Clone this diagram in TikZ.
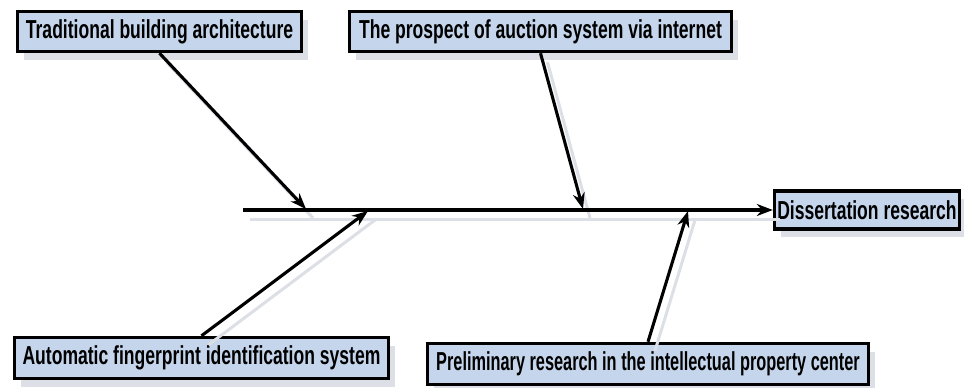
\documentclass[tikz,border=0pt]{standalone}
\usepackage{fontspec}
\newfontfamily\boxfont{Liberation Sans}[FakeStretch=0.675]
\usetikzlibrary{arrows.meta,shadows}
\definecolor{boxfill}{RGB}{197,214,236}
\definecolor{shadowc}{RGB}{220,224,230}
\tikzset{
  box/.style={draw=black, line width=3.4pt, fill=boxfill, inner sep=0pt,
    font=\boxfont\bfseries\fontsize{26}{30}\selectfont,
    drop shadow={shadow xshift=6pt, shadow yshift=-8pt, fill=shadowc, opacity=1}},
  conn/.style={line width=3.1pt, -{Stealth[length=16pt,width=12pt]}},
  shadowline/.style={line width=3pt, draw=shadowc}
}
\begin{document}
\begin{tikzpicture}[x=1pt,y=-1pt]
\useasboundingbox (0,0) rectangle (964,388);
\node[box, minimum width=284pt, minimum height=40pt] (b1) at (159.5,31.5) {Traditional building architecture};
\node[box, minimum width=382pt, minimum height=40pt] (b2) at (540.5,31.5) {The prospect of auction system via internet};
\node[box, minimum width=185pt, minimum height=38pt] (b3) at (867,210) {Dissertation research};
\node[box, minimum width=374pt, minimum height=41pt] (b4) at (201.5,358) {Automatic fingerprint identification system};
\node[box, minimum width=441pt, minimum height=41pt] (b5) at (648,364) {\scalebox{0.93}[1]{Preliminary research in the intellectual property center}};
\coordinate (s0) at (243,210);
\coordinate (t1) at (306,209);
\coordinate (t2) at (583,209);
\coordinate (t4) at (368,211);
\coordinate (t5) at (688,211);
\begin{scope}[transform canvas={shift={(7pt,-9pt)}}]
\draw[shadowline] (s0) -- (b3.west);
\draw[shadowline] (b1.south) -- (t1);
\draw[shadowline] (b2.south) -- (t2);
\draw[shadowline] (b4.north) -- (t4);
\draw[shadowline] (b5.north) -- (t5);
\end{scope}
\draw[conn] (s0) -- (b3.west);
\draw[conn] (b1.south) -- (t1);
\draw[conn] (b2.south) -- (t2);
\draw[conn] (b4.north) -- (t4);
\draw[conn] (b5.north) -- (t5);
\end{tikzpicture}
\end{document}
